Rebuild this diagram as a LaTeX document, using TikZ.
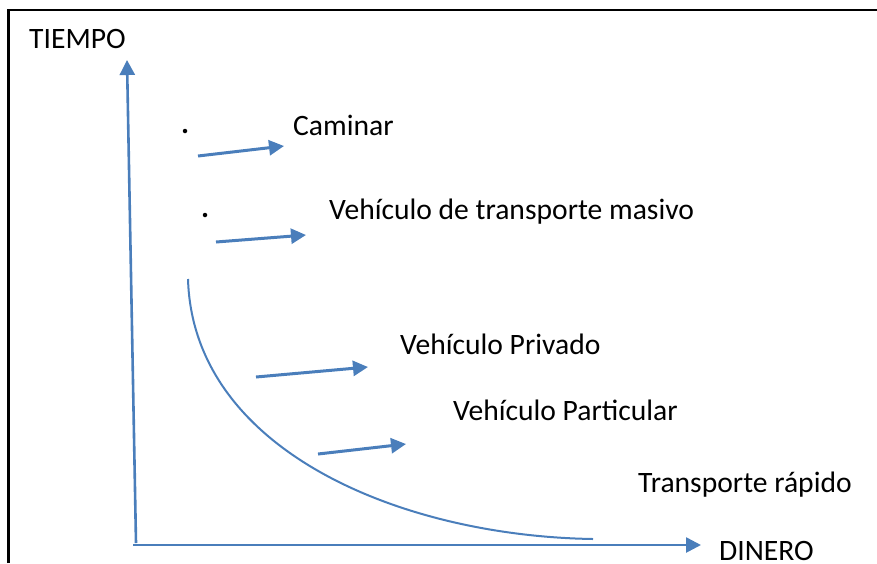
\documentclass[tikz,border=0pt]{standalone}
\usepackage{fontspec}
\setmainfont{Carlito}
\usetikzlibrary{arrows.meta}
\definecolor{officeblue}{RGB}{74,126,187}
\tikzset{
  lbl/.style={anchor=base west, inner sep=0pt, font=\fontsize{29.6}{34}\selectfont},
  axis/.style={draw=officeblue, line width=2.6pt, -{Triangle[length=15pt,width=15pt]}},
  arr/.style={draw=officeblue, line width=3pt, -{Triangle[length=15pt,width=15pt]}},
  crv/.style={draw=officeblue, line width=2pt},
  pt/.style={circle, fill=black, inner sep=0pt, minimum size=4.5pt},
}
\begin{document}
\begin{tikzpicture}[x=1pt,y=-1pt]
\useasboundingbox (0,0) rectangle (877,563);
% frame
\draw[line width=2.2pt, black] (8.5,563) -- (8.5,10) -- (877,10);
% labels
\node[lbl] (tiempo) at (29,48) {TIEMPO};
\node[lbl] (dinero) at (719,560) {DINERO};
\node[lbl] (caminar) at (293,135) {Caminar};
\node[lbl] (masivo) at (329,219) {Vehículo de transporte masivo};
\node[lbl] (privado) at (400,354) {Vehículo Privado};
\node[lbl] (particular) at (453,420) {Vehículo Particular};
\node[lbl] (rapido) at (638,492) {Transporte rápido};
% dots
\node[pt] (d1) at (185,131) {};
\node[pt] (d2) at (205,215) {};
% axes
\coordinate (o1) at (136,543);
\coordinate (ytip) at (127,60);
\coordinate (o2) at (133,545);
\coordinate (xtip) at (701,545);
\draw[axis] (o1) -- (ytip);
\draw[axis] (o2) -- (xtip);
% curve
\coordinate (cs) at (188,279);
\coordinate (ce) at (593,539);
\draw[crv] (cs) .. controls (193,450) and (400,536) .. (ce);
% arrows
\coordinate (a1s) at (198,156);
\coordinate (a1e) at (284,146);
\coordinate (a2s) at (216,242);
\coordinate (a2e) at (306,235);
\coordinate (a3s) at (256,377);
\coordinate (a3e) at (368,367);
\coordinate (a4s) at (318,454);
\coordinate (a4e) at (406,444);
\draw[arr] (a1s) -- (a1e);
\draw[arr] (a2s) -- (a2e);
\draw[arr] (a3s) -- (a3e);
\draw[arr] (a4s) -- (a4e);
\end{tikzpicture}
\end{document}
